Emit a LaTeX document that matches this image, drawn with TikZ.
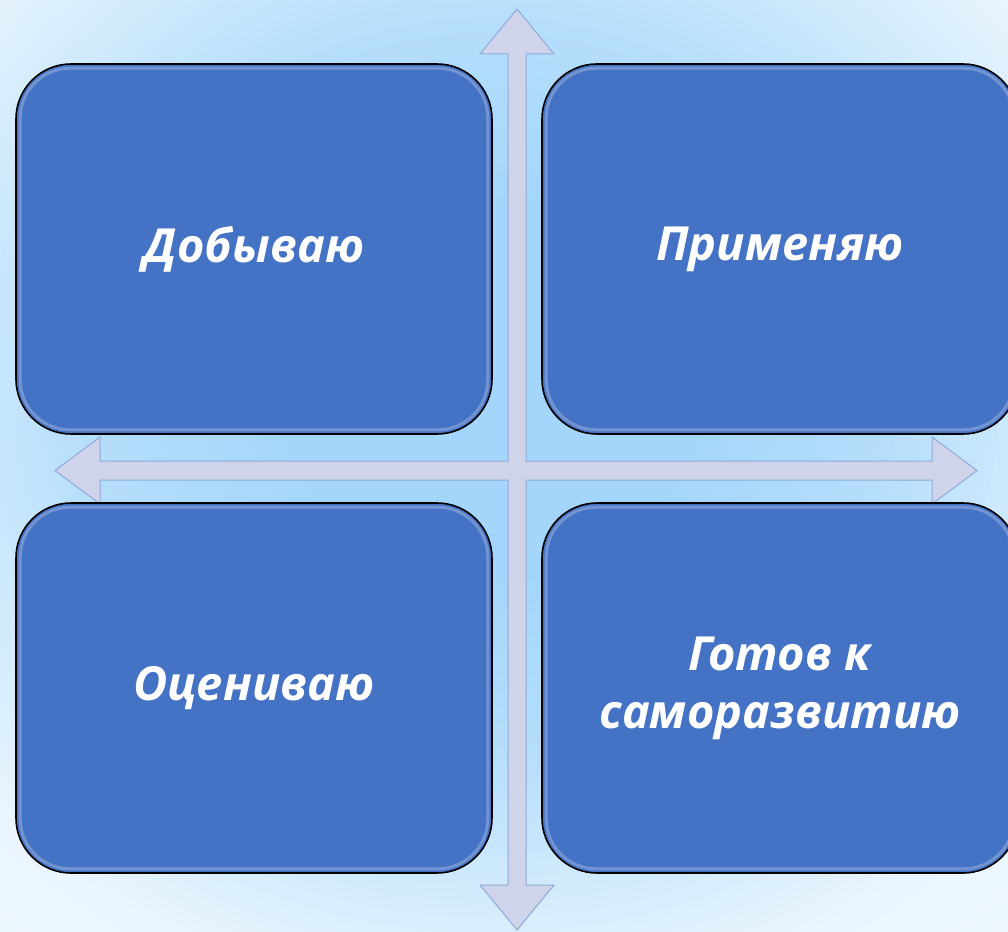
\documentclass[tikz,border=0pt]{standalone}
\usepackage{fontspec}
\newfontfamily\boxfont{Open Sans}
\definecolor{bgA}{HTML}{A3D6FA}
\definecolor{bgB}{HTML}{B6DEFB}
\definecolor{bgC}{HTML}{D6EDFC}
\definecolor{bgD}{HTML}{EAF5FE}
\definecolor{bgE}{HTML}{F0F8FE}
\definecolor{boxblue}{HTML}{4472C4}
\definecolor{arrfill}{HTML}{CFD4EA}
\definecolor{arrline}{HTML}{8EA9DB}
\tikzset{
  quad/.style={draw=black, line width=1.6pt, fill=boxblue, rounded corners=55pt,
    minimum width=476pt, minimum height=370pt, inner sep=0pt,
    text=white, align=center, font=\boxfont\bfseries\itshape\fontsize{47}{58}\selectfont},
  bevel/.style={draw=white, line width=3pt, opacity=0.25, rounded corners=50pt},
  crossarrow/.style={fill=arrfill, draw=arrline, line width=1pt, line join=miter}
}
\begin{document}
\begin{tikzpicture}[x=1pt,y=-1pt]
\useasboundingbox (0,0) rectangle (1008,931);
\begin{scope}
\clip (0,0) rectangle (1008,931);
\fill[bgE] (0,0) rectangle (1008,931);
\foreach \i in {100,...,1}{
  \pgfmathsetmacro\r{\i/80}
  \pgfmathtruncatemacro\seg{\r>1 ? 4 : (\r>0.85 ? 3 : (\r>0.6 ? 2 : (\r>0.3 ? 1 : 0)))}
  \ifcase\seg
    \colorlet{cc}{bgA}
  \or
    \pgfmathsetmacro\t{(\r-0.3)/0.3*100}\colorlet{cc}{bgB!\t!bgA}
  \or
    \pgfmathsetmacro\t{(\r-0.6)/0.25*100}\colorlet{cc}{bgC!\t!bgB}
  \or
    \pgfmathsetmacro\t{(\r-0.85)/0.15*100}\colorlet{cc}{bgD!\t!bgC}
  \else
    \pgfmathsetmacro\t{min(100,(\r-1)/0.25*100)}\colorlet{cc}{bgE!\t!bgD}
  \fi
  \fill[cc] (490,390) ellipse [x radius=\r*680, y radius=\r*620];
}
\end{scope}
% cross of double-headed arrows
\draw[crossarrow] (517,9) -- (554,54) -- (526,54) -- (526,461) -- (932,461) -- (932,437)
  -- (977,470.5) -- (932,504) -- (932,480) -- (526,480) -- (526,885) -- (554,885)
  -- (517,930) -- (480,885) -- (508,885) -- (508,480) -- (100,480) -- (100,504)
  -- (55,470.5) -- (100,437) -- (100,461) -- (508,461) -- (508,54) -- (480,54) -- cycle;
% boxes
\node[quad] (tl) at (254,249) {Добываю};
\node[quad] (tr) at (780,249) {Применяю};
\node[quad] (bl) at (254,688) {Оцениваю};
\node[quad] (br) at (780,688) {Готов к\\саморазвитию};
\foreach \n in {tl,tr,bl,br}{
  \draw[bevel] ([shift={(5pt,-5pt)}]\n.north west) rectangle ([shift={(-5pt,5pt)}]\n.south east);
}
\end{tikzpicture}
\end{document}
